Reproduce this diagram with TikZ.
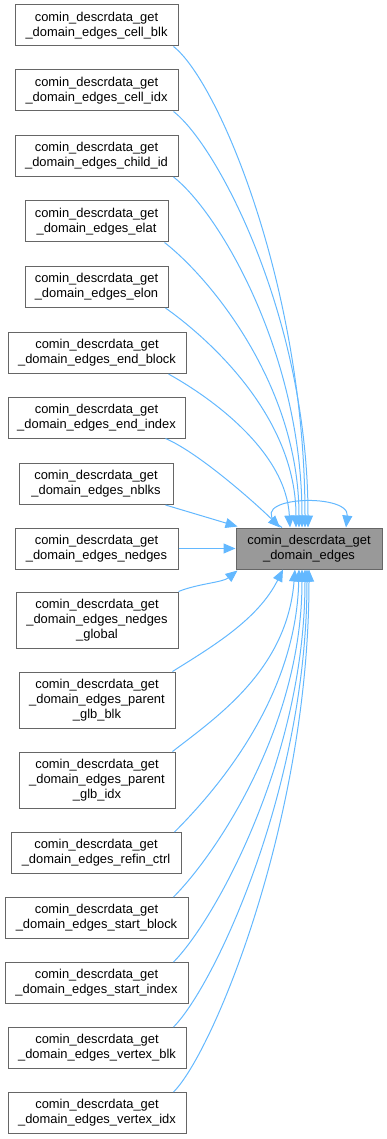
\documentclass[tikz,border=0pt]{standalone}
\usepackage{fontspec}
\setmainfont{Liberation Sans}
\usetikzlibrary{arrows.meta}
\definecolor{edgeblue}{HTML}{63B8FF}
\definecolor{boxgray}{HTML}{666666}
\definecolor{targetfill}{HTML}{999999}
\begin{document}
\begin{tikzpicture}[x=1pt,y=-1pt,
  fn/.style={draw=boxgray, line width=1pt, fill=white, align=center, inner sep=0pt,
    font=\fontsize{12.9}{15}\selectfont, minimum height=41pt},
  fnthree/.style={fn, minimum height=56pt},
  tgt/.style={fn, fill=targetfill},
  edge/.style={draw=edgeblue, line width=1pt, -{Triangle[length=12pt,width=10pt]}},
]
\useasboundingbox (0,0) rectangle (387,1139);

\node[tgt, minimum width=146pt] (t) at (309,548.5) {comin\_descrdata\_get\\\_domain\_edges};

\node[fn, minimum width=163pt] (s1) at (96.5,25.5) {comin\_descrdata\_get\\\_domain\_edges\_cell\_blk};
\node[fn, minimum width=163pt] (s2) at (96.5,90.5) {comin\_descrdata\_get\\\_domain\_edges\_cell\_idx};
\node[fn, minimum width=163pt] (s3) at (96.5,156) {comin\_descrdata\_get\\\_domain\_edges\_child\_id};
\node[fn, minimum width=143pt] (s4) at (96.5,221.5) {comin\_descrdata\_get\\\_domain\_edges\_elat};
\node[fn, minimum width=143pt] (s5) at (96.5,287) {comin\_descrdata\_get\\\_domain\_edges\_elon};
\node[fn, minimum width=178pt] (s6) at (97,353) {comin\_descrdata\_get\\\_domain\_edges\_end\_block};
\node[fn, minimum width=177pt] (s7) at (96.5,417.5) {comin\_descrdata\_get\\\_domain\_edges\_end\_index};
\node[fn, minimum width=154pt] (s8) at (96,484) {comin\_descrdata\_get\\\_domain\_edges\_nblks};
\node[fn, minimum width=163pt] (s9) at (96.5,548.5) {comin\_descrdata\_get\\\_domain\_edges\_nedges};
\node[fnthree, minimum width=162pt] (s10) at (97,620) {comin\_descrdata\_get\\\_domain\_edges\_nedges\\\_global};
\node[fnthree, minimum width=156pt] (s11) at (97,700) {comin\_descrdata\_get\\\_domain\_edges\_parent\\\_glb\_blk};
\node[fnthree, minimum width=156pt] (s12) at (97,780) {comin\_descrdata\_get\\\_domain\_edges\_parent\\\_glb\_idx};
\node[fn, minimum width=170pt] (s13) at (96,853) {comin\_descrdata\_get\\\_domain\_edges\_refin\_ctrl};
\node[fn, minimum width=183pt] (s14) at (96.5,918) {comin\_descrdata\_get\\\_domain\_edges\_start\_block};
\node[fn, minimum width=183pt] (s15) at (96.5,983) {comin\_descrdata\_get\\\_domain\_edges\_start\_index};
\node[fn, minimum width=178pt] (s16) at (97,1048) {comin\_descrdata\_get\\\_domain\_edges\_vertex\_blk};
\node[fn, minimum width=178pt] (s17) at (97,1113) {comin\_descrdata\_get\\\_domain\_edges\_vertex\_idx};

% edges into the top of the target
\draw[edge] ([xshift=-5pt]s1.south east) .. controls +(45,35) and +(0,-240) .. ([xshift=-4pt]t.north);
\draw[edge] ([xshift=-5pt]s2.south east) .. controls +(45,35) and +(0,-208) .. ([xshift=-1pt]t.north);
\draw[edge] ([xshift=-5pt]s3.south east) .. controls +(45,35) and +(0,-175) .. ([xshift=-7pt]t.north);
\draw[edge] ([xshift=-4pt]s4.south east) .. controls +(45,35) and +(0,-143) .. ([xshift=-10pt]t.north);
\draw[edge] ([xshift=-3pt]s5.south east) .. controls +(45,32) and +(0,-110) .. ([xshift=-13pt]t.north);
\draw[edge] ([xshift=-18pt]s6.south east) .. controls +(45,25) and +(-4,-75) .. ([xshift=-19pt]t.north);
\draw[edge] ([xshift=-20pt]s7.south east) .. controls +(35,15) and +(-20,-20) .. ([xshift=-29pt]t.north);
\draw[edge] ([xshift=-8pt]s8.south east) -- ([xshift=2pt,yshift=1pt]t.north west);
\draw[edge] (s9.east) -- (t.west);
\draw[edge] (s10.north east) .. controls +(20,-8) and +(-15,12) .. ([xshift=2pt,yshift=-1pt]t.south west);

% self loop
\draw[edge] ([xshift=-27pt]t.north) .. controls +(-46,-31) and +(4,-36) .. ([xshift=37pt]t.north);

% edges into the bottom of the target
\draw[edge] ([xshift=-3pt]s11.north east) .. controls +(40,-25) and +(-25,50) .. ([xshift=-26pt]t.south);
\draw[edge] ([xshift=-3pt]s12.north east) .. controls +(45,-35) and +(-8,100) .. ([xshift=-14pt]t.south);
\draw[edge] ([xshift=-7pt]s13.north east) .. controls +(40,-40) and +(-3,130) .. ([xshift=-10pt]t.south);
\draw[edge] ([xshift=-15pt]s14.north east) .. controls +(40,-40) and +(0,160) .. ([xshift=-7pt]t.south);
\draw[edge] ([xshift=-15pt]s15.north east) .. controls +(40,-40) and +(0,190) .. ([xshift=-4pt]t.south);
\draw[edge] ([xshift=-13pt]s16.north east) .. controls +(40,-40) and +(0,220) .. ([xshift=-2pt]t.south);
\draw[edge] ([xshift=-13pt]s17.north east) .. controls +(40,-40) and +(0,250) .. (t.south);
\end{tikzpicture}
\end{document}
